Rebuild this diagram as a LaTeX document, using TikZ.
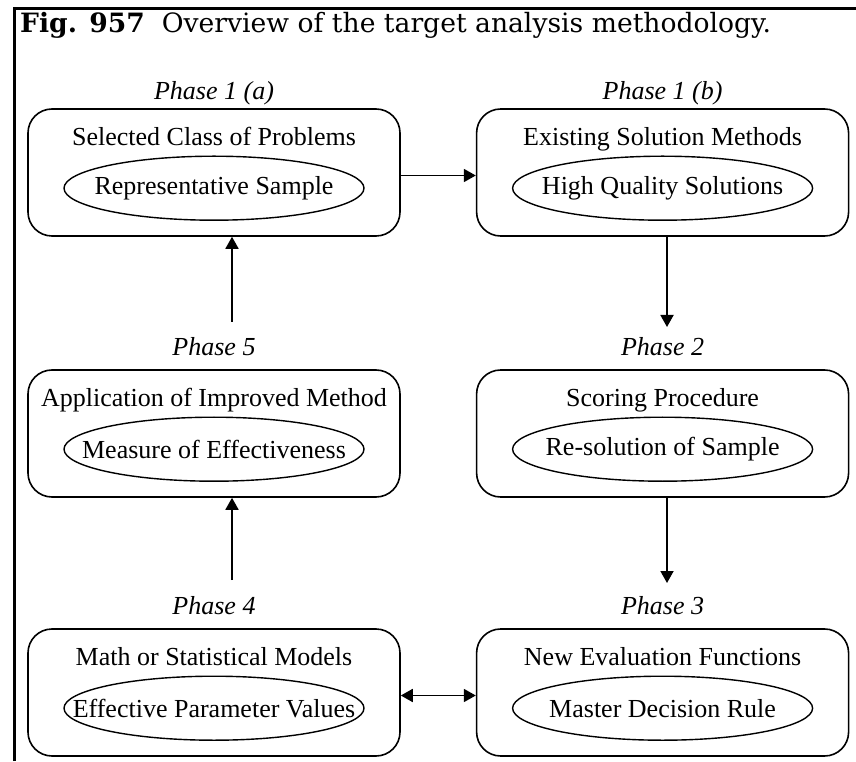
\documentclass[tikz,border=0pt]{standalone}
\usepackage{fontspec}
\setmainfont{Liberation Serif}
\newfontfamily\titlefont{DejaVu Serif}
\usepackage{tikz}
\usetikzlibrary{positioning}
\usetikzlibrary{shapes, arrows.meta, shapes.geometric}

\begin{document}
\begin{tikzpicture}[
    x=1pt, y=1pt,
    node distance = 11pt and 75pt,% for distance between nodes
       box/.style = {draw, line width=1.6pt, rounded corners=24pt,
                     minimum width=372pt, minimum height=127pt},% phase boxes
      oval/.style = {draw, ellipse, line width=1.4pt, inner xsep=-60pt, inner ysep=0pt,
                     minimum width=300pt, minimum height=64pt,
                     font=\rmfamily\fontsize{26}{30}\selectfont},% inner ovals
      head/.style = {inner sep=0pt, anchor=base,
                     font=\rmfamily\fontsize{26}{30}\selectfont},% box titles
     phase/.style = {inner sep=0pt, anchor=base,
                     font=\rmfamily\itshape\fontsize{26}{30}\selectfont},% phase labels
       arr/.style = {line width=1.8pt, -{Triangle[width=13pt,length=12pt]}}
    ]
    \useasboundingbox (0,0) rectangle (856,761);
    % frame
    \draw[line width=3pt] (14,0) -- (14,752) -- (856,752);
    \node (fig) [inner sep=0pt, anchor=base west, font=\titlefont\fontsize{26.6}{30}\selectfont]
        at (20,728) {\textbf{Fig. 957}\ \ Overview of the target analysis methodology.};

    % boxes
    \node (pa) [box] at (214,588.5) {};
    \node (pb) [box, right=of pa] {};
    \node (p5) [box] at (214,327.5) {};
    \node (p2) [box, right=of p5] {};
    \node (p4) [box] at (214,68.5) {};
    \node (p3) [box, right=of p4] {};

    % phase labels
    \node (la) [phase, above=9pt of pa.north, anchor=base] {Phase 1 (a)};
    \node (lb) [phase, above=9pt of pb.north, anchor=base] {Phase 1 (b)};
    \node (l5) [phase, above=14pt of p5.north, anchor=base] {Phase 5};
    \node (l2) [phase, above=14pt of p2.north, anchor=base] {Phase 2};
    \node (l4) [phase, above=14pt of p4.north, anchor=base] {Phase 4};
    \node (l3) [phase, above=14pt of p3.north, anchor=base] {Phase 3};

    % titles
    \node (ha) [head, below=37pt of pa.north, anchor=base] {Selected Class of Problems};
    \node (hb) [head, below=37pt of pb.north, anchor=base] {Existing Solution Methods};
    \node (h5) [head, below=37pt of p5.north, anchor=base] {Application of Improved Method};
    \node (h2) [head, below=37pt of p2.north, anchor=base] {Scoring Procedure};
    \node (h4) [head, below=37pt of p4.north, anchor=base] {Math or Statistical Models};
    \node (h3) [head, below=37pt of p3.north, anchor=base] {New Evaluation Functions};

    % ovals
    \node (ea) [oval, below=80pt of pa.north, anchor=center] {Representative Sample};
    \node (eb) [oval, below=80pt of pb.north, anchor=center] {High Quality Solutions};
    \node (e5) [oval, below=80pt of p5.north, anchor=center] {Measure of Effectiveness};
    \node (e2) [oval, below=80pt of p2.north, anchor=center] {Re-solution of Sample};
    \node (e4) [oval, below=80pt of p4.north, anchor=center] {Effective Parameter Values};
    \node (e3) [oval, below=80pt of p3.north, anchor=center] {Master Decision Rule};

    % free arrow ends
    \coordinate (c2) at (667,434);
    \coordinate (c3) at (667,178);
    \coordinate (c5) at (232,439);
    \coordinate (c4) at (232,181);

    \draw[arr] ([yshift=-3pt]pa.east) -- ([yshift=-3pt]pb.west);
    \draw[arr] (pb.south -| c2) -- (c2);
    \draw[arr] (p2.south -| c3) -- (c3);
    \draw[arr] (c5) -- (pa.south -| c5);
    \draw[arr] (c4) -- (p5.south -| c4);
    \draw[arr, {Triangle[width=13pt,length=12pt]}-{Triangle[width=13pt,length=12pt]}]
        ([yshift=-3pt]p4.east) -- ([yshift=-3pt]p3.west);
\end{tikzpicture}
\end{document}
